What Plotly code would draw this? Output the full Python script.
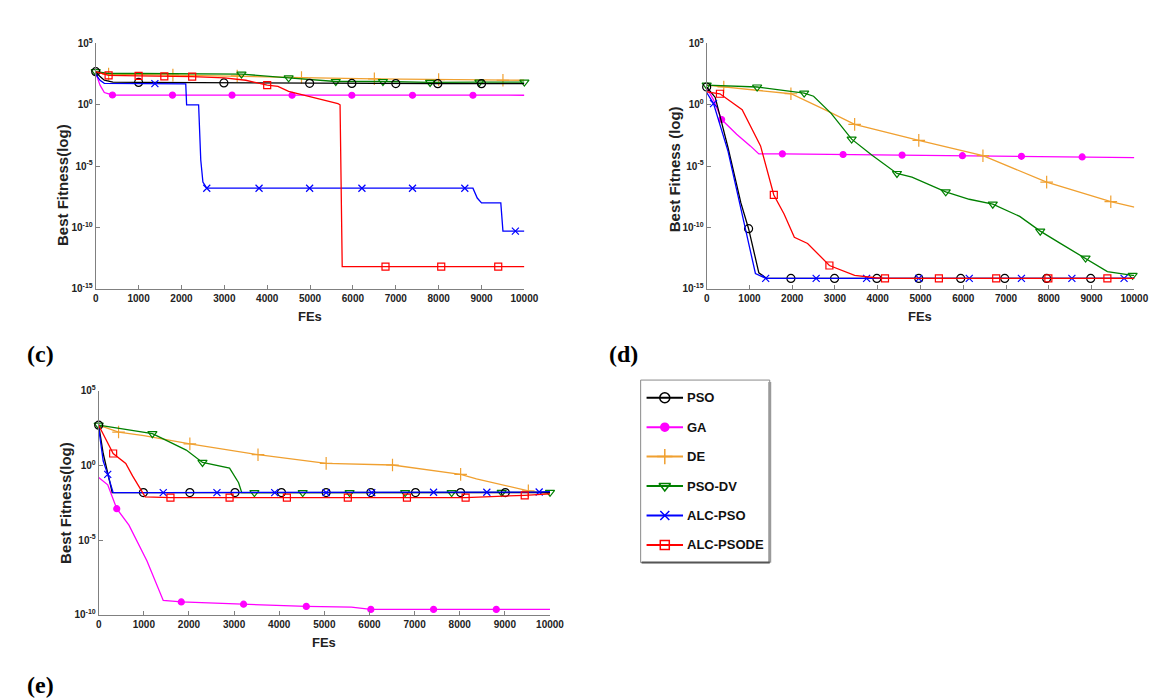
import numpy as np
import plotly.graph_objects as go

W, H = 1162, 698

# ---------------- shared labels / styles ----------------
series_names = ["PSO", "GA", "DE", "PSO-DV", "ALC-PSO", "ALC-PSODE"]
series_colors = ["#000000", "#ff00ff", "#f0a030", "#008000", "#0000ff", "#ff0000"]
series_symbols = ["circle-open", "circle", "cross-thin-open", "triangle-down-open",
                  "x-thin-open", "square-open"]
x_ticks = [0, 1000, 2000, 3000, 4000, 5000, 6000, 7000, 8000, 9000, 10000]
x_ticktext = ["0", "1000", "2000", "3000", "4000", "5000", "6000", "7000", "8000", "9000", "10000"]
y_ticks_cd = [1e-15, 1e-10, 1e-5, 1e0, 1e5]
y_ticktext_cd = ["10<sup>-15</sup>", "10<sup>-10</sup>", "10<sup>-5</sup>", "10<sup>0</sup>", "10<sup>5</sup>"]
y_ticks_e = [1e-10, 1e-5, 1e0, 1e5]
y_ticktext_e = ["10<sup>-10</sup>", "10<sup>-5</sup>", "10<sup>0</sup>", "10<sup>5</sup>"]
panel_labels = ["(c)", "(d)", "(e)"]
y_titles = ["Best Fitness(log)", "Best Fitness (log)", "Best Fitness(log)"]
x_title = "FEs"

# ---------------- panel (c): values are log10(best fitness) ----------------
c_pso_x = [0, 100, 200, 400, 1000, 2000, 2990, 4000, 4990, 5975, 7000, 7980, 9000, 10000]
c_pso_log10 = [2.7, 2.3, 2.0, 1.85, 1.82, 1.8, 1.78, 1.76, 1.75, 1.74, 1.73, 1.72, 1.72, 1.72]
c_pso_mk = [0, 1000, 2990, 4990, 5975, 7000, 7980, 9000]

c_ga_x = [0, 100, 200, 390, 1790, 3180, 4580, 5975, 7390, 8800, 10000]
c_ga_log10 = [2.6, 1.6, 1.0, 0.8, 0.79, 0.79, 0.78, 0.78, 0.78, 0.78, 0.78]
c_ga_mk = [390, 1790, 3180, 4580, 5975, 7390, 8800]

c_de_x = [0, 300, 1800, 3300, 4800, 6500, 8000, 9500, 10000]
c_de_log10 = [2.6, 2.5, 2.42, 2.35, 2.22, 2.12, 2.05, 2.0, 2.0]
c_de_mk = [300, 1800, 3300, 4800, 6500, 8000, 9500]

c_psodv_x = [0, 300, 1000, 2000, 3400, 4500, 5600, 6700, 7800, 8950, 10000]
c_psodv_log10 = [2.7, 2.55, 2.55, 2.55, 2.5, 2.2, 1.9, 1.9, 1.82, 1.85, 1.85]
c_psodv_mk = [0, 3400, 4500, 5600, 6700, 7800, 8950, 10000]

c_alcpso_x = [0, 100, 200, 1000, 1380, 2100, 2120, 2400, 2450, 2500, 2590, 3810, 4990,
              6210, 7390, 8610, 8800, 8900, 9000, 9450, 9500, 9790, 10000]
c_alcpso_log10 = [2.5, 2.0, 1.75, 1.72, 1.72, 1.7, 0.0, 0.0, -4.5, -6.3, -6.8, -6.8, -6.8,
                  -6.8, -6.8, -6.8, -6.8, -7.6, -8.0, -8.0, -10.3, -10.3, -10.3]
c_alcpso_mk = [1380, 2590, 3810, 4990, 6210, 7390, 8610, 9790]

c_alcpsode_x = [0, 300, 1000, 1600, 2250, 3000, 3500, 4000, 4250, 4500, 5000, 5300, 5650,
                5700, 5750, 6760, 8060, 9390, 10000]
c_alcpsode_log10 = [2.7, 2.4, 2.35, 2.32, 2.3, 2.2, 2.0, 1.6, 1.5, 1.1, 0.7, 0.4, 0.1,
                    0.0, -13.2, -13.2, -13.2, -13.2, -13.2]
c_alcpsode_mk = [300, 1000, 1600, 2250, 4000, 6760, 8060, 9390]

# ---------------- panel (d) ----------------
d_pso_x = [0, 200, 500, 800, 980, 1220, 1400, 1970, 2990, 3980, 4960, 5940, 6970, 7950, 8980, 10000]
d_pso_log10 = [1.45, 0.6, -3.5, -8.0, -10.1, -13.7, -14.15, -14.15, -14.15, -14.15, -14.15,
               -14.15, -14.15, -14.15, -14.15, -14.15]
d_pso_mk = [0, 980, 1970, 2990, 3980, 4960, 5940, 6970, 7950, 8980]

d_ga_x = [0, 160, 350, 700, 1020, 1220, 1770, 3190, 4570, 5980, 7360, 8780, 10000]
d_ga_log10 = [1.4, 0.4, -1.2, -2.4, -3.35, -4.0, -4.0, -4.05, -4.1, -4.15, -4.2, -4.25, -4.3]
d_ga_mk = [350, 1770, 3190, 4570, 5980, 7360, 8780]

d_de_x = [0, 400, 1000, 1970, 2760, 3460, 4960, 6460, 7950, 9450, 10000]
d_de_log10 = [1.6, 1.45, 1.25, 0.9, -0.4, -1.6, -2.9, -4.15, -6.3, -7.9, -8.35]
d_de_mk = [400, 1970, 3460, 4960, 6460, 7950, 9450]

d_psodv_x = [0, 1180, 2280, 2500, 2910, 3390, 3860, 4450, 4800, 5590, 6140, 6690, 7320,
             7800, 8270, 8860, 9370, 9960, 10000]
d_psodv_log10 = [1.6, 1.45, 0.95, 0.7, -0.7, -2.8, -4.1, -5.6, -5.9, -7.1, -7.7, -8.1, -9.1,
                 -10.3, -11.3, -12.5, -13.6, -13.9, -13.9]
d_psodv_mk = [0, 1180, 2280, 3390, 4450, 5590, 6690, 7800, 8860, 9960]

d_alcpso_x = [0, 160, 500, 870, 1140, 1380, 2560, 3740, 4960, 6140, 7360, 8540, 9760, 10000]
d_alcpso_log10 = [1.0, 0.1, -3.8, -9.7, -13.75, -14.15, -14.15, -14.15, -14.15, -14.15,
                  -14.15, -14.15, -14.15, -14.15]
d_alcpso_mk = [160, 1380, 2560, 3740, 4960, 6140, 7360, 8540, 9760]

d_alcpsode_x = [0, 310, 830, 1260, 1570, 1810, 2050, 2360, 2870, 3460, 3940, 4170, 5430,
                6770, 7990, 9370, 10000]
d_alcpsode_log10 = [1.05, 0.9, -0.4, -3.35, -7.35, -8.9, -10.8, -11.3, -13.1, -13.9, -14.1,
                    -14.15, -14.15, -14.15, -14.15, -14.15, -14.15]
d_alcpsode_mk = [310, 1570, 2870, 4170, 5430, 6770, 7990, 9370]

# ---------------- panel (e) ----------------
e_pso_x = [0, 100, 300, 990, 2020, 3020, 4050, 5040, 6030, 7020, 8020, 9010, 10000]
e_pso_log10 = [2.7, 0.8, -1.82, -1.82, -1.82, -1.82, -1.82, -1.82, -1.82, -1.82, -1.82, -1.82, -1.82]
e_pso_mk = [0, 990, 2020, 3020, 4050, 5040, 6030, 7020, 8020, 9010]

e_ga_x = [0, 200, 400, 670, 1070, 1430, 1830, 3210, 4600, 5600, 6030, 7420, 8810, 10000]
e_ga_log10 = [-0.8, -1.3, -2.9, -4.0, -6.4, -9.05, -9.15, -9.3, -9.45, -9.5, -9.65, -9.65, -9.65, -9.65]
e_ga_mk = [400, 1830, 3210, 4600, 6030, 7420, 8810]

e_de_x = [0, 440, 1000, 2020, 3530, 5040, 6510, 7580, 8020, 8370, 9520, 10000]
e_de_log10 = [2.7, 2.24, 2.0, 1.45, 0.72, 0.14, 0.03, -0.4, -0.6, -0.9, -1.7, -1.9]
e_de_mk = [440, 2020, 3530, 5040, 6510, 8020, 9520]

e_psodv_x = [0, 1190, 1350, 1940, 2300, 2900, 3100, 3170, 3450, 4520, 5560, 6790, 7820, 8930, 10000]
e_psodv_log10 = [2.7, 2.13, 1.9, 1.03, 0.2, -0.18, -1.16, -1.82, -1.82, -1.82, -1.82, -1.82,
                 -1.82, -1.8, -1.8]
e_psodv_mk = [0, 1190, 2300, 3450, 4520, 5560, 6790, 7820, 8930, 10000]

e_alcpso_x = [0, 100, 200, 320, 1430, 2620, 3900, 5040, 6050, 7420, 8600, 9760, 10000]
e_alcpso_log10 = [2.5, 0.3, -0.6, -1.82, -1.82, -1.82, -1.82, -1.82, -1.82, -1.8, -1.8, -1.78, -1.75]
e_alcpso_mk = [200, 1430, 2620, 3900, 5040, 6050, 7420, 8600, 9760]

e_alcpsode_x = [0, 320, 600, 750, 1030, 1590, 2900, 4170, 5520, 6830, 8130, 9440, 10000]
e_alcpsode_log10 = [2.7, 0.8, 0.14, -0.7, -2.1, -2.15, -2.15, -2.15, -2.15, -2.15, -2.15, -2.0, -1.9]
e_alcpsode_mk = [320, 1590, 2900, 4170, 5520, 6830, 8130, 9440]

panels = [
    [(c_pso_x, c_pso_log10, c_pso_mk), (c_ga_x, c_ga_log10, c_ga_mk), (c_de_x, c_de_log10, c_de_mk),
     (c_psodv_x, c_psodv_log10, c_psodv_mk), (c_alcpso_x, c_alcpso_log10, c_alcpso_mk),
     (c_alcpsode_x, c_alcpsode_log10, c_alcpsode_mk)],
    [(d_pso_x, d_pso_log10, d_pso_mk), (d_ga_x, d_ga_log10, d_ga_mk), (d_de_x, d_de_log10, d_de_mk),
     (d_psodv_x, d_psodv_log10, d_psodv_mk), (d_alcpso_x, d_alcpso_log10, d_alcpso_mk),
     (d_alcpsode_x, d_alcpsode_log10, d_alcpsode_mk)],
    [(e_pso_x, e_pso_log10, e_pso_mk), (e_ga_x, e_ga_log10, e_ga_mk), (e_de_x, e_de_log10, e_de_mk),
     (e_psodv_x, e_psodv_log10, e_psodv_mk), (e_alcpso_x, e_alcpso_log10, e_alcpso_mk),
     (e_alcpsode_x, e_alcpsode_log10, e_alcpsode_mk)],
]

# ---------------- layout geometry (pixels) ----------------
def px(x):
    return x / W

def py(y):
    return 1 - y / H

axes_px = [  # left, right, top, bottom
    (86, 521, 29, 279),
    (706, 1140, 29, 279),
    (89, 547, 383, 611),
]
y_ranges = [(-15, 5), (-15, 5), (-10, 5)]
ytitle_offsets = [19, 3, 0]
draw_order = [1, 2, 3, 0, 4, 5]
marker_sizes = [8, 6, 9, 8, 7, 7]

fig = go.Figure()
for p, series in enumerate(panels):
    xa = "x" if p == 0 else "x%d" % (p + 1)
    ya = "y" if p == 0 else "y%d" % (p + 1)
    for i in draw_order:
        xs, lg, mk = series[i]
        xs = np.array(xs, dtype=float)
        ys = np.power(10.0, np.array(lg, dtype=float))
        fig.add_trace(go.Scatter(x=xs, y=ys, mode="lines", xaxis=xa, yaxis=ya,
                                 line=dict(color=series_colors[i], width=1.3),
                                 showlegend=False, hoverinfo="skip"))
        sel = np.isin(xs, mk)
        fig.add_trace(go.Scatter(x=xs[sel], y=ys[sel], mode="markers", xaxis=xa, yaxis=ya,
                                 cliponaxis=False,
                                 marker=dict(symbol=series_symbols[i], size=marker_sizes[i],
                                             color=series_colors[i],
                                             line=dict(color=series_colors[i], width=1.2)),
                                 showlegend=False, hoverinfo="skip"))

tick_font = dict(family="Liberation Sans, Arial, sans-serif",
                 size=10, color="#222222", weight="bold")
axis_common = dict(showline=True, linecolor="#808080", linewidth=1, mirror=False,
                   ticks="inside", ticklen=4, tickcolor="#808080", showgrid=False,
                   zeroline=False, tickfont=tick_font)

layout = dict(width=W, height=H, margin=dict(l=0, r=0, t=0, b=0),
              paper_bgcolor="white", plot_bgcolor="white", showlegend=False)
for p in range(3):
    l, r, t, b = axes_px[p]
    sx = "" if p == 0 else str(p + 1)
    layout["xaxis" + sx] = dict(domain=[px(l), px(r)], range=[0, 10000],
                                tickvals=x_ticks, ticktext=x_ticktext,
                                anchor="y" + sx, **axis_common)
    tv = y_ticks_cd if p < 2 else y_ticks_e
    tt = y_ticktext_cd if p < 2 else y_ticktext_e
    layout["yaxis" + sx] = dict(domain=[py(b), py(t)], type="log", range=list(y_ranges[p]),
                                tickvals=tv, ticktext=tt, anchor="x" + sx, **axis_common)

# legend axes
leg_l, leg_r, leg_t, leg_b = 639, 770, 372, 558
layout["xaxis4"] = dict(domain=[px(leg_l), px(leg_r)], range=[leg_l, leg_r], visible=False,
                        anchor="y4", fixedrange=True)
layout["yaxis4"] = dict(domain=[py(leg_b), py(leg_t)], range=[leg_b, leg_t], visible=False,
                        anchor="x4", fixedrange=True)
fig.update_layout(**layout)

annotations = []
shapes = []
title_font = dict(family="Liberation Sans, Arial, sans-serif", size=15, color="#222222",
                  weight="bold")
for p in range(3):
    l, r, t, b = axes_px[p]
    annotations.append(dict(x=px(l - 33), y=py((t + b) / 2 + ytitle_offsets[p]),
                            xref="paper", yref="paper",
                            text=y_titles[p], textangle=-90, showarrow=False,
                            font=title_font, xanchor="center", yanchor="middle"))
    annotations.append(dict(x=px((l + r) / 2), y=py(b + 28), xref="paper", yref="paper",
                            text=x_title, showarrow=False,
                            font=dict(family="Liberation Sans, Arial, sans-serif", size=13,
                                      color="#222222", weight="bold"),
                            xanchor="center", yanchor="middle"))

label_pos = [(14, 345), (605, 345), (14, 683)]
for k, (lx, ly) in enumerate(label_pos):
    annotations.append(dict(x=px(lx), y=py(ly), xref="paper", yref="paper",
                            text="<b>%s</b>" % panel_labels[k], showarrow=False,
                            font=dict(family="Liberation Serif, Times New Roman, serif",
                                      size=24, color="black"),
                            xanchor="left", yanchor="middle"))

# legend box
shapes.append(dict(type="rect", xref="paper", yref="paper", x0=px(leg_l), x1=px(leg_r),
                   y0=py(leg_b), y1=py(leg_t), line=dict(color="#8a8a8a", width=1),
                   fillcolor="white", layer="below"))
shapes.append(dict(type="line", xref="paper", yref="paper", x0=px(leg_r), x1=px(leg_r),
                   y0=py(leg_b), y1=py(leg_t + 2), line=dict(color="#9a9a9a", width=3)))
shapes.append(dict(type="line", xref="paper", yref="paper", x0=px(leg_l + 1), x1=px(leg_r),
                   y0=py(leg_b), y1=py(leg_b), line=dict(color="#555555", width=2)))

row_y = [390, 420, 450, 480, 510, 540]
for i, name in enumerate(series_names):
    fig.add_trace(go.Scatter(x=[645, 682], y=[row_y[i], row_y[i]], mode="lines",
                             xaxis="x4", yaxis="y4", line=dict(color=series_colors[i], width=2),
                             showlegend=False, hoverinfo="skip"))
    fig.add_trace(go.Scatter(x=[663.5], y=[row_y[i]], mode="markers", xaxis="x4", yaxis="y4",
                             marker=dict(symbol=series_symbols[i], size=marker_sizes[i] + 2,
                                         color=series_colors[i],
                                         line=dict(color=series_colors[i], width=1.5)),
                             showlegend=False, hoverinfo="skip", cliponaxis=False))
    annotations.append(dict(x=px(684), y=py(row_y[i]), xref="paper", yref="paper",
                            text=name, showarrow=False, xanchor="left", yanchor="middle",
                            font=dict(family="Liberation Sans, Arial, sans-serif",
                                      size=13, color="#111111", weight="bold")))

fig.update_layout(annotations=annotations, shapes=shapes)
fig.write_html("out.html")
